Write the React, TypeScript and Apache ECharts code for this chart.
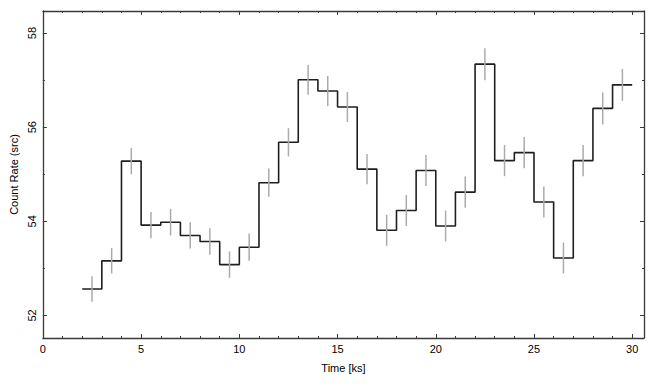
import React, { useEffect, useRef } from "react";
import * as echarts from "echarts";

const binStarts = [2, 3, 4, 5, 6, 7, 8, 9, 10, 11, 12, 13, 14, 15, 16, 17, 18, 19, 20, 21, 22, 23, 24, 25, 26, 27, 28, 29];
const binWidth = 1;
const rates = [52.56, 53.16, 55.28, 53.92, 53.98, 53.70, 53.57, 53.08, 53.45, 54.82, 55.68, 57.01, 56.77, 56.43, 55.11, 53.81, 54.23, 55.08, 53.90, 54.62, 57.34, 55.29, 55.46, 54.41, 53.22, 55.29, 56.40, 56.90];
const errors = [0.27, 0.27, 0.28, 0.28, 0.28, 0.28, 0.28, 0.28, 0.29, 0.30, 0.30, 0.32, 0.32, 0.32, 0.32, 0.33, 0.33, 0.33, 0.33, 0.33, 0.34, 0.33, 0.33, 0.33, 0.33, 0.33, 0.34, 0.34];
const xMajorTicks = [0, 5, 10, 15, 20, 25, 30];
const xMinorTicks = [1, 2, 3, 4, 6, 7, 8, 9, 11, 12, 13, 14, 16, 17, 18, 19, 21, 22, 23, 24, 26, 27, 28, 29];
const yMajorTicks = [52, 54, 56, 58];
const yMinorTicks = [52, 53, 54, 55, 56, 57, 58];
const xRange = [0, 30.6];
const yRange = [51.52, 58.47];

const FONT = "Liberation Sans";
const AXIS_COLOR = "#3a3a3a";

export default function App() {
  const ref = useRef<HTMLDivElement>(null);
  useEffect(() => {
    if (!ref.current) return;
    const chart = echarts.init(ref.current, null, { renderer: "svg" });

    const stepData: number[][] = binStarts.map((s, i) => [s, rates[i]]);
    stepData.push([binStarts[binStarts.length - 1] + binWidth, rates[rates.length - 1]]);
    const errData = binStarts.map((s, i) => [s + binWidth / 2, rates[i], errors[i]]);

    const xBase = (pos: "bottom" | "top", major: boolean, labels: boolean) => ({
      type: "value",
      position: pos,
      min: xRange[0],
      max: xRange[1],
      axisLine: { show: major, onZero: false, lineStyle: { color: AXIS_COLOR, width: 1.3 } },
      axisTick: {
        show: true,
        inside: true,
        length: major ? 4 : 2,
        customValues: major ? xMajorTicks : xMinorTicks,
        lineStyle: { color: AXIS_COLOR, width: 1 },
      },
      axisLabel: labels
        ? { show: true, customValues: xMajorTicks, color: "#000", fontFamily: FONT, fontSize: 11, margin: 5 }
        : { show: false },
      splitLine: { show: false },
      ...(labels
        ? {
            name: "Time [ks]",
            nameLocation: "middle",
            nameGap: 24,
            nameTextStyle: { color: "#000", fontFamily: FONT, fontSize: 11 },
          }
        : {}),
    });

    const yBase = (pos: "left" | "right", major: boolean, labels: boolean) => ({
      type: "value",
      position: pos,
      min: yRange[0],
      max: yRange[1],
      axisLine: { show: major, onZero: false, lineStyle: { color: AXIS_COLOR, width: 1.3 } },
      axisTick: {
        show: true,
        inside: true,
        length: major ? 4 : 2,
        customValues: major ? yMajorTicks : yMinorTicks.filter((v) => yMajorTicks.indexOf(v) < 0),
        lineStyle: { color: AXIS_COLOR, width: 1 },
      },
      axisLabel: labels
        ? { show: true, customValues: yMajorTicks, rotate: 90, color: "#000", fontFamily: FONT, fontSize: 11, margin: 5 }
        : { show: false },
      splitLine: { show: false },
      ...(labels
        ? {
            name: "Count Rate (src)",
            nameLocation: "middle",
            nameGap: 22,
            nameRotate: 90,
            nameTextStyle: { color: "#000", fontFamily: FONT, fontSize: 11 },
          }
        : {}),
    });

    chart.setOption({
      animation: false,
      backgroundColor: "#fff",
      grid: { left: 42, right: 11, top: 11, bottom: 47, containLabel: false },
      xAxis: [
        xBase("bottom", true, true),
        xBase("bottom", false, false),
        xBase("top", true, false),
        xBase("top", false, false),
      ],
      yAxis: [
        yBase("left", true, true),
        yBase("left", false, false),
        yBase("right", true, false),
        yBase("right", false, false),
      ],
      series: [
        {
          type: "line",
          step: "end",
          data: stepData,
          symbol: "none",
          lineStyle: { color: "#1e1e1e", width: 1.6 },
          xAxisIndex: 0,
          yAxisIndex: 0,
          z: 2,
        },
        {
          type: "custom",
          xAxisIndex: 0,
          yAxisIndex: 0,
          data: errData,
          z: 3,
          renderItem: (params: any, api: any) => {
            const x = api.value(0);
            const y = api.value(1);
            const e = api.value(2);
            const p1 = api.coord([x, y - e]);
            const p2 = api.coord([x, y + e]);
            return {
              type: "line",
              shape: { x1: p1[0], y1: p1[1], x2: p2[0], y2: p2[1] },
              style: { stroke: "#ababab", lineWidth: 1.5 },
            };
          },
        },
      ],
    });
    return () => chart.dispose();
  }, []);

  return (
    <div
      ref={ref}
      style={{ position: "absolute", left: 0, top: 0, width: 655, height: 385, background: "#fff" }}
    />
  );
}
